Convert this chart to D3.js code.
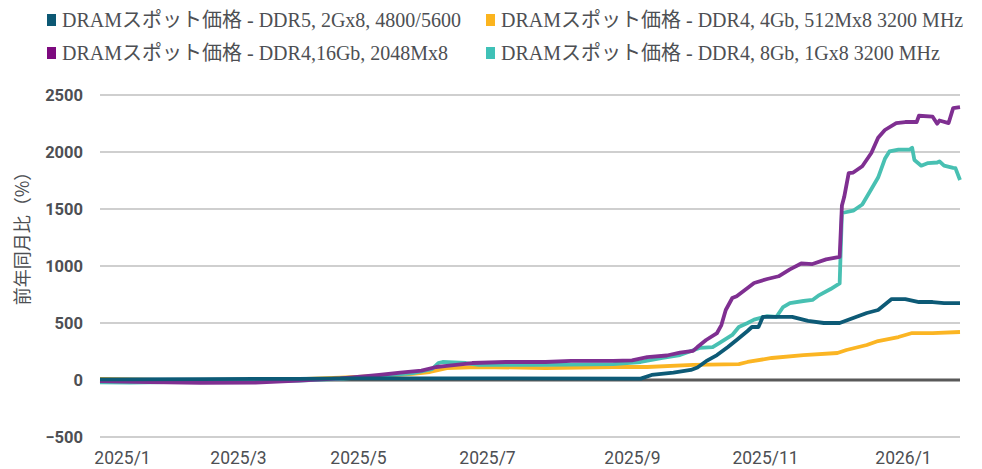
<!DOCTYPE html>
<html>
<head>
<meta charset="utf-8">
<script src="https://cdn.jsdelivr.net/npm/d3@7/dist/d3.min.js"></script>
<style>
  html, body { margin: 0; padding: 0; background: #fff; }
  svg { display: block; }
</style>
</head>
<body>
<svg id="chart" width="982" height="469"></svg>
<script>
// ---------------- DATA ----------------
const seriesNames = [
  "DRAMスポット価格 - DDR5, 2Gx8, 4800/5600",
  "DRAMスポット価格 - DDR4, 4Gb, 512Mx8 3200 MHz",
  "DRAMスポット価格 - DDR4,16Gb, 2048Mx8",
  "DRAMスポット価格 - DDR4, 8Gb, 1Gx8 3200 MHz"
];
const yTicks = [-500, 0, 500, 1000, 1500, 2000, 2500];
const xTickDates = ["2025-01-01","2025-03-01","2025-05-01","2025-07-01","2025-09-01","2025-11-01","2026-01-01"];
const xTickLabels = ["2025/1","2025/3","2025/5","2025/7","2025/9","2025/11","2026/1"];
const yTitle = "前年同月比（%）";

const ddr5 = [
  ["2024-12-21",5],["2025-02-10",8],["2025-04-01",10],["2025-04-22",15],["2025-05-11",15],
  ["2025-09-05",12],["2025-09-10",44],["2025-09-20",65],["2025-09-28",88],["2025-10-01",110],
  ["2025-10-05",165],["2025-10-10",219],["2025-10-15",289],["2025-10-19",351],["2025-10-24",430],
  ["2025-10-26",465],["2025-10-29",465],["2025-10-31",553],["2025-11-04",553],["2025-11-13",553],
  ["2025-11-20",518],["2025-11-27",500],["2025-12-04",500],["2025-12-10",544],["2025-12-16",588],
  ["2025-12-21",614],["2025-12-27",710],["2026-01-02",710],["2026-01-08",684],["2026-01-14",684],
  ["2026-01-19",675],["2026-01-26",675]
];
const ddr4_4gb = [
  ["2024-12-21",10],["2025-02-10",-5],["2025-03-22",0],["2025-04-22",20],["2025-05-11",35],
  ["2025-05-27",53],["2025-06-04",70],["2025-06-12",105],["2025-06-27",114],["2025-07-26",105],
  ["2025-08-24",114],["2025-09-08",114],["2025-09-29",132],["2025-10-20",140],["2025-10-24",158],
  ["2025-11-04",193],["2025-11-18",219],["2025-12-03",237],["2025-12-07",263],["2025-12-16",307],
  ["2025-12-21",342],["2025-12-30",377],["2026-01-05",412],["2026-01-14",412],["2026-01-26",421]
];
const ddr4_16gb = [
  ["2024-12-21",-10],["2025-01-15",-18],["2025-02-10",-25],["2025-03-10",-22],["2025-04-01",-5],
  ["2025-04-22",15],["2025-05-06",35],["2025-05-11",44],["2025-05-21",64],["2025-05-31",82],
  ["2025-06-07",114],["2025-06-12",123],["2025-06-24",149],["2025-07-09",158],["2025-07-26",158],
  ["2025-08-06",167],["2025-08-24",167],["2025-09-01",172],["2025-09-08",200],["2025-09-17",215],
  ["2025-09-23",240],["2025-09-29",255],["2025-10-01",289],["2025-10-05",351],["2025-10-10",412],
  ["2025-10-12",482],["2025-10-14",614],["2025-10-17",719],["2025-10-19",735],["2025-10-24",807],
  ["2025-10-27",851],["2025-11-02",886],["2025-11-07",910],["2025-11-12",970],["2025-11-17",1022],
  ["2025-11-22",1017],["2025-11-28",1058],["2025-12-04",1079],["2025-12-05",1530],["2025-12-06",1605],
  ["2025-12-08",1815],["2025-12-10",1820],["2025-12-14",1875],["2025-12-18",1991],["2025-12-21",2125],
  ["2025-12-24",2193],["2025-12-29",2254],["2026-01-02",2263],["2026-01-07",2263],["2026-01-08",2318],
  ["2026-01-14",2310],["2026-01-16",2248],["2026-01-17",2276],["2026-01-21",2254],["2026-01-23",2385],
  ["2026-01-26",2394]
];
const ddr4_8gb = [
  ["2024-12-21",-20],["2025-01-05",-22],["2025-02-10",-15],["2025-04-01",-5],["2025-04-22",10],
  ["2025-05-11",35],["2025-05-27",60],["2025-06-05",96],["2025-06-08",149],["2025-06-10",158],
  ["2025-06-21",149],["2025-06-27",132],["2025-07-26",132],["2025-08-24",140],["2025-09-05",158],
  ["2025-09-15",193],["2025-09-23",219],["2025-10-02",281],["2025-10-08",289],["2025-10-11",324],
  ["2025-10-17",395],["2025-10-20",465],["2025-10-24",500],["2025-10-27",530],["2025-11-02",561],
  ["2025-11-06",553],["2025-11-09",640],["2025-11-12",675],["2025-11-18",693],["2025-11-22",702],
  ["2025-11-25",745],["2025-11-30",798],["2025-12-04",848],["2025-12-05",1465],["2025-12-10",1485],
  ["2025-12-14",1540],["2025-12-17",1640],["2025-12-21",1776],["2025-12-24",1940],["2025-12-26",2005],
  ["2025-12-30",2020],["2026-01-04",2022],["2026-01-05",2038],["2026-01-06",1930],["2026-01-09",1880],
  ["2026-01-12",1903],["2026-01-16",1908],["2026-01-17",1918],["2026-01-19",1880],["2026-01-23",1860],
  ["2026-01-24",1858],["2026-01-26",1754]
];
const seriesColors = ["#0d5a76", "#fbb523", "#7f2f91", "#48c0b2"];
const legendSwatchColors = ["#0c5874", "#fbb41e", "#7d0a7f", "#3fc1b7"];

// ---------------- LAYOUT ----------------
const svg = d3.select("#chart");
const parse = d3.timeParse("%Y-%m-%d");
const plotLeft = 100, plotRight = 960;
const dataStart = parse("2024-12-21"), dataEnd = parse("2026-01-26");
// category-style (trading-day) axis: month ticks are not evenly spaced
const tickPx = [122, 238, 358, 487, 632, 765, 903];
const x = d3.scaleTime()
  .domain([dataStart, ...xTickDates.map(parse), dataEnd])
  .range([plotLeft, ...tickPx, plotRight]);
const y = d3.scaleLinear().domain([-500, 2500]).range([437, 95]);

// gridlines
svg.append("g").selectAll("line").data(yTicks.filter(v => v !== 0)).join("line")
  .attr("x1", plotLeft).attr("x2", plotRight)
  .attr("y1", d => y(d)).attr("y2", d => y(d))
  .attr("stroke", "#bfbfbf").attr("stroke-width", 1.5);

// y tick labels
const yAxis = d3.axisLeft(y).tickValues(yTicks).tickFormat(d3.format("d")).tickSize(0).tickPadding(0);
const gy = svg.append("g").attr("transform", "translate(83,0)").call(yAxis);
gy.select(".domain").remove();
gy.selectAll("text")
  .attr("font-family", "Roboto, 'Liberation Sans', Arial, sans-serif")
  .attr("font-weight", "bold").attr("font-size", 16.5).attr("fill", "#4d4f53");

// zero line
svg.append("line")
  .attr("x1", plotLeft).attr("x2", plotRight)
  .attr("y1", y(0)).attr("y2", y(0))
  .attr("stroke", "#595959").attr("stroke-width", 3);

// x tick labels
const xAxis = d3.axisBottom(x).tickValues(xTickDates.map(parse))
  .tickFormat((d, i) => xTickLabels[i]).tickSize(0).tickPadding(0);
const gx = svg.append("g").attr("transform", "translate(0,452)").call(xAxis);
gx.select(".domain").remove();
gx.selectAll("text")
  .attr("font-family", "Roboto, 'Liberation Sans', sans-serif")
  .attr("font-size", 17.5).attr("fill", "#4d4f53");

// y title
svg.append("text")
  .attr("transform", "translate(29,234) rotate(-90)")
  .attr("text-anchor", "middle")
  .attr("font-family", "'Noto Sans CJK JP', sans-serif")
  .attr("font-size", 18).attr("fill", "#4d4f53")
  .text(yTitle);

// lines
const line = d3.line().x(d => x(parse(d[0]))).y(d => y(d[1]));
const drawOrder = [[ddr4_4gb, 1], [ddr4_8gb, 3], [ddr4_16gb, 2], [ddr5, 0]];
svg.append("g").selectAll("path").data(drawOrder).join("path")
  .attr("d", d => line(d[0]))
  .attr("fill", "none")
  .attr("stroke", d => seriesColors[d[1]])
  .attr("stroke-width", 3.8)
  .attr("stroke-linejoin", "round");

// legend
const legendPos = [[47, 20], [486, 20], [47, 53], [486, 53]];
const lg = svg.append("g").selectAll("g").data(seriesNames).join("g")
  .attr("transform", (d, i) => `translate(${legendPos[i][0]},${legendPos[i][1]})`);
lg.append("rect").attr("x", 0).attr("y", -6).attr("width", 9).attr("height", 12)
  .attr("fill", (d, i) => legendSwatchColors[i]);
lg.append("text").attr("x", 15).attr("y", 0).attr("dy", "0.35em")
  .attr("font-family", "'Liberation Serif', 'Noto Sans CJK JP', serif")
  .attr("font-size", 20).attr("fill", "#4d4f53")
  .text(d => d);
</script>
</body>
</html>
